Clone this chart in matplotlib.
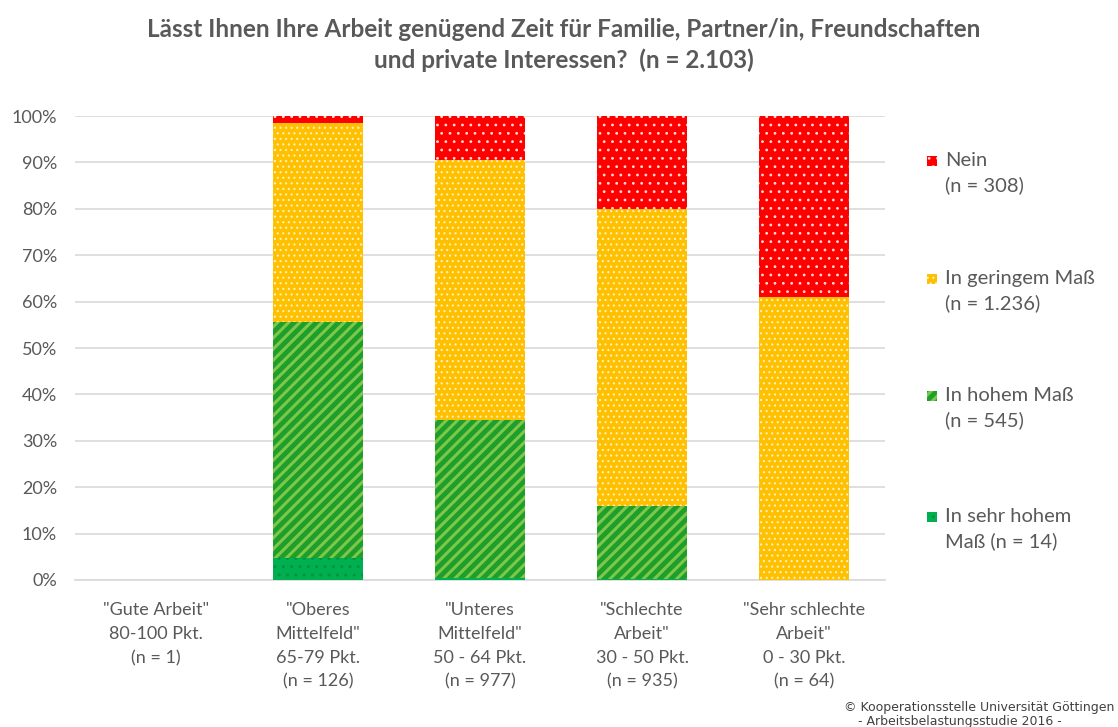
import matplotlib
matplotlib.use("Agg")
import matplotlib.pyplot as plt
from matplotlib.patches import Rectangle
import numpy as np

plt.rcParams['font.family'] = ['Lato', 'DejaVu Sans']

categories = ['"Gute Arbeit"\n80-100 Pkt.\n(n = 1)',
              '"Oberes\nMittelfeld"\n65-79 Pkt.\n(n = 126)',
              '"Unteres\nMittelfeld"\n50 - 64 Pkt.\n(n = 977)',
              '"Schlechte\nArbeit"\n30 - 50 Pkt.\n(n = 935)',
              '"Sehr schlechte\nArbeit"\n0 - 30 Pkt.\n(n = 64)']
sehr_hohem = [0, 4.8, 0.5, 0.3, 0]
hohem = [0, 50.8, 34.0, 15.6, 0]
geringem = [0, 42.8, 56.0, 64.0, 61.0]
nein = [0, 1.6, 9.5, 20.1, 39.0]
series_labels = ['In sehr hohem\nMaß (n = 14)', 'In hohem Maß\n(n = 545)',
                 'In geringem Maß\n(n = 1.236)', 'Nein\n(n = 308)']
yticks = [0, 10, 20, 30, 40, 50, 60, 70, 80, 90, 100]

styles = [
    dict(color='#00B050', edgecolor='#00933F', hatch='..', lw=1.0),
    dict(color='#1E9E2A', edgecolor='#7DC84B', hatch='///', lw=2.2),
    dict(color='#FFC000', edgecolor='#FFF0C0', hatch='...', lw=0.8),
    dict(color='#FF0000', edgecolor='#FFD8D8', hatch='..', lw=0.8),
]

fig = plt.figure(figsize=(11.18, 7.27), dpi=100)
ax = fig.add_axes([75/1118, 1-580/727, 810/1118, 464/727])

x = np.arange(len(categories))
bottom = np.zeros(len(categories))
for vals, st in zip([sehr_hohem, hohem, geringem, nein], styles):
    with plt.rc_context({'hatch.linewidth': st['lw']}):
        ax.bar(x, vals, bottom=bottom, width=0.555, color=st['color'],
               edgecolor=st['edgecolor'], hatch=st['hatch'], linewidth=0, zorder=3)
    bottom += np.array(vals)

ax.set_xlim(-0.5, 4.5)
ax.set_ylim(0, 100)
ax.set_yticks(yticks)
ax.set_yticklabels([f'{v}%' for v in yticks])
ax.yaxis.grid(True, color='#D9D9D9', linewidth=1.2, zorder=0)
ax.set_axisbelow(True)
for s in ['top', 'right', 'left']:
    ax.spines[s].set_visible(False)
ax.spines['bottom'].set_color('#D9D9D9')
ax.spines['bottom'].set_linewidth(1.2)
ax.tick_params(axis='both', length=0, labelsize=13, colors='#595959')
ax.tick_params(axis='y', pad=13)
ax.set_xticks(x)
ax.set_xticklabels(categories, linespacing=1.6, va='top')
ax.tick_params(axis='x', pad=16)

# legend (manual, squares aligned with first text line)
leg_y = [161, 279, 396, 517]
for (st, lab), yy in zip(list(zip(styles, series_labels))[::-1], leg_y):
    with plt.rc_context({'hatch.linewidth': st['lw']}):
        fig.add_artist(Rectangle((927/1118, 1-(yy+5)/727), 10/1118, 10/727,
                                 transform=fig.transFigure, facecolor=st['color'],
                                 edgecolor=st['edgecolor'], hatch=st['hatch'], linewidth=0))
    fig.text(945/1118, 1-(yy-9)/727, lab, ha='left', va='top', fontsize=14.5,
             color='#595959', linespacing=1.5)

fig.text(564/1118, 1-45/727, 'Lässt Ihnen Ihre Arbeit genügend Zeit für Familie, Partner/in, Freundschaften\nund private Interessen?  (n = 2.103)',
         ha='center', va='center', fontsize=17.5, fontweight='bold', color='#595959',
         linespacing=1.4)
fig.text(1114/1118, 1-708/727, '© Kooperationsstelle Universität Göttingen',
         ha='right', va='center', fontsize=9, color='#404040', family='DejaVu Sans')
fig.text(960/1118, 1-721/727, '- Arbeitsbelastungsstudie 2016 -',
         ha='center', va='center', fontsize=9, color='#404040', family='DejaVu Sans')

fig.savefig('out.png', dpi=100)
